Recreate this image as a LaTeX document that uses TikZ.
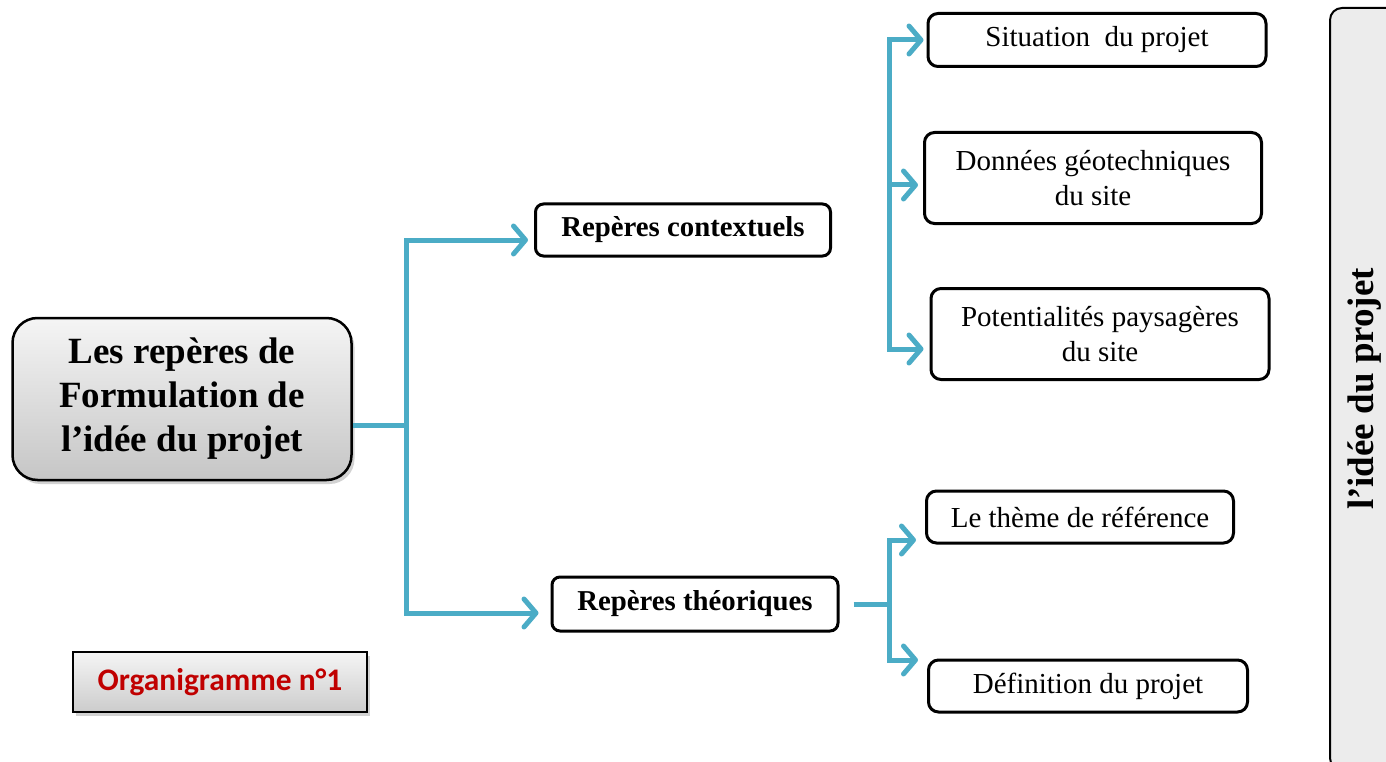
\documentclass[tikz,border=0pt]{standalone}
\usepackage{fontspec}
\setmainfont{Liberation Serif}
\newfontfamily\calibri{Carlito}
\usepackage{tikz}
\usetikzlibrary{positioning,arrows.meta,shadows,calc}
\definecolor{linkblue}{HTML}{4BACC6}
\definecolor{titlered}{HTML}{C00000}

\begin{document}
\begin{tikzpicture}[
    x=1pt, y=-1pt,
    mainbox/.style={rectangle, rounded corners=25pt, minimum width=339pt, minimum height=162pt, text centered, align=center, draw=black, line width=2.5pt, top color=gray!8, bottom color=gray!45, drop shadow={shadow xshift=3pt, shadow yshift=-4pt, opacity=0.35}, font=\fontsize{37}{44}\selectfont\bfseries},
    branch/.style={rectangle, rounded corners=8pt, minimum height=52pt, text centered, draw=black, line width=3pt, fill=white, font=\fontsize{28.8}{32}\selectfont\bfseries},
    leaf/.style={rectangle, rounded corners=10pt, minimum width=338pt, text centered, align=center, draw=black, line width=3pt, fill=white, font=\fontsize{29}{35}\selectfont},
    tagbox/.style={rectangle, minimum width=294pt, minimum height=60pt, draw=black, line width=2pt, top color=gray!8, bottom color=gray!40, drop shadow={shadow xshift=3pt, shadow yshift=-4pt, opacity=0.35}, font=\fontsize{31.4}{36}\selectfont\calibri\bfseries, text=titlered},
    sidebox/.style={rectangle, rounded corners=12pt, minimum width=762pt, minimum height=70pt, draw=black, line width=2pt, fill=gray!15, font=\fontsize{37}{40}\selectfont\bfseries},
    link/.style={draw=linkblue, line width=5pt},
    arrow/.style={link, -{Straight Barb[length=12pt,width=28pt,round]}}
]
\path[use as bounding box, fill=white] (0,0) rectangle (1386,762);

% Main component
\node (main) [mainbox] at (182,399) {Les repères de\\Formulation de\\l’idée du projet};

% Second level
\node (ctx) [branch, minimum width=295pt] at (683,230) {Repères contextuels};
\node (theo) [branch, minimum width=286pt, minimum height=54pt] at (695,604) {Repères théoriques};

% Leaves
\node (sit) [leaf, minimum height=53pt] at (1097,40) {Situation~ du projet};
\node (don) [leaf, minimum width=337pt, minimum height=91pt] at (1093,178) {Données géotechniques\\du site};
\node (pot) [leaf, minimum height=91pt] at (1100,334) {Potentialités paysagères\\du site};
\node (theme) [leaf, minimum width=307pt, minimum height=52pt] at (1080,517) {Le thème de référence};
\node (def) [leaf, minimum width=319pt, minimum height=52pt] at (1088,686) {Définition du projet};

% Caption and side band
\node (tag) [tagbox] at (220,682) {Organigramme n°1};
\node (side) [sidebox, rotate=90] at (1365,389) {l’idée du projet};

% Junctions
\coordinate (jA) at (406,425);
\coordinate (jB) at (889,185);
\coordinate (jC) at (889,604);

% Arrows
\draw[link] (main.east |- jA) -- (jA);
\draw[arrow] (jA) |- ([xshift=-6pt,yshift=-10pt]ctx.west);
\draw[arrow] (jA) |- ([xshift=-12pt,yshift=-9pt]theo.west);
\draw[arrow] (jB) |- ([xshift=-3pt]sit.west);
\draw[arrow] (jB) -- ($(don.west |- jB)+(-5,0)$);
\draw[arrow] (jB) |- ([xshift=-6pt,yshift=-15pt]pot.west);
\draw[link] ([xshift=14pt]theo.east) -- (jC);
\draw[arrow] (jC) |- ([xshift=-9pt,yshift=-23pt]theme.west);
\draw[arrow] (jC) |- ([xshift=-9pt,yshift=26pt]def.west);

\end{tikzpicture}
\end{document}
